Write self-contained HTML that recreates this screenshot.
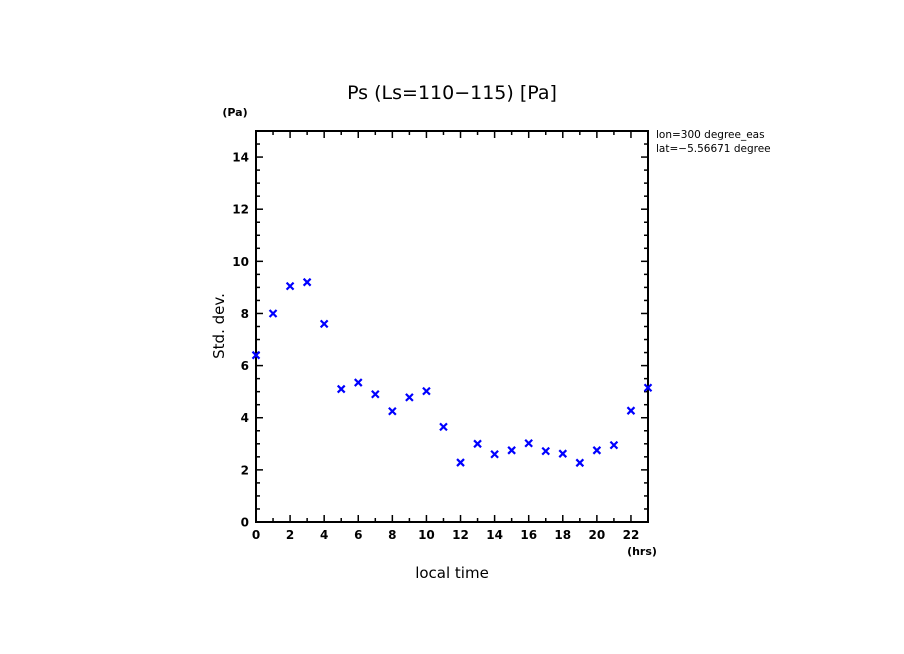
<!DOCTYPE html>
<html><head><meta charset="utf-8"><style>
html,body{margin:0;padding:0;background:#fff;}
svg{display:block;font-family:"DejaVu Sans","Liberation Sans",sans-serif;}
</style></head><body>
<svg id="chart" width="904" height="654">
<text x="452" y="99" font-size="19" text-anchor="middle">Ps (Ls=110−115) [Pa]</text>
<text x="235" y="116" font-size="11" font-weight="bold" text-anchor="middle">(Pa)</text>
<text x="656" y="138" font-size="10.5">lon=300 degree_eas</text>
<text x="656" y="152" font-size="10.5">lat=−5.56671 degree</text>
<text x="224" y="326" font-size="15" text-anchor="middle" transform="rotate(-90 224 326)">Std. dev.</text>
<text x="452" y="578" font-size="15" text-anchor="middle">local time</text>
<text x="642" y="555" font-size="11" font-weight="bold" text-anchor="middle">(hrs)</text>
<g id="axes"></g>
<g id="marks"></g>
</svg>
<script>
const hours=[0,1,2,3,4,5,6,7,8,9,10,11,12,13,14,15,16,17,18,19,20,21,22,23];
const stddev=[6.4,8.0,9.05,9.2,7.6,5.1,5.35,4.9,4.25,4.78,5.02,3.65,2.28,3.0,2.6,2.75,3.02,2.72,2.62,2.27,2.75,2.95,4.27,5.15];
const xTickLabels=[0,2,4,6,8,10,12,14,16,18,20,22];
const yTickLabels=[0,2,4,6,8,10,12,14];
const X0=256,X1=648,Y0=522,Y1=131,XMAX=23,YMAX=15;
const sx=v=>X0+(X1-X0)*v/XMAX;
const sy=v=>Y0-(Y0-Y1)*v/YMAX;
const NS="http://www.w3.org/2000/svg";
const axes=document.getElementById('axes'),marks=document.getElementById('marks');
function mk(tag,attrs,parent){const e=document.createElementNS(NS,tag);for(const k in attrs)e.setAttribute(k,attrs[k]);parent.appendChild(e);return e;}
const frame=mk('rect',{x:X0,y:Y1,width:X1-X0,height:Y0-Y1,fill:'none',stroke:'#000','stroke-width':2},axes);


for(let h=0;h<=XMAX;h++){const x=sx(h),len=h%2===0?7:4;
 mk('line',{x1:x,y1:Y0,x2:x,y2:Y0-len,stroke:'#000','stroke-width':1.5},axes);
 mk('line',{x1:x,y1:Y1,x2:x,y2:Y1+len,stroke:'#000','stroke-width':1.5},axes);}
for(let v=0;v<=YMAX;v+=0.5){const y=sy(v),len=v%2===0?7:4;
 mk('line',{x1:X0,y1:y,x2:X0+len,y2:y,stroke:'#000','stroke-width':1.5},axes);
 mk('line',{x1:X1,y1:y,x2:X1-len,y2:y,stroke:'#000','stroke-width':1.5},axes);}
xTickLabels.forEach(v=>{const t=mk('text',{x:sx(v),y:Y0+17,'font-size':12,'font-weight':'bold','text-anchor':'middle'},axes);t.textContent=v;
 
 });
yTickLabels.forEach(v=>{const t=mk('text',{x:X0-7,y:sy(v)+4.5,'font-size':12,'font-weight':'bold','text-anchor':'end'},axes);t.textContent=v;
 
 });
hours.forEach((h,i)=>{const x=sx(h),y=sy(stddev[i]),r=3.5;
 const p=mk('path',{d:`M${x-r},${y-r}L${x+r},${y+r}M${x-r},${y+r}L${x+r},${y-r}`,stroke:'#0000ff','stroke-width':2.2,fill:'none'},marks);
 
 });
</script>
</body></html>
